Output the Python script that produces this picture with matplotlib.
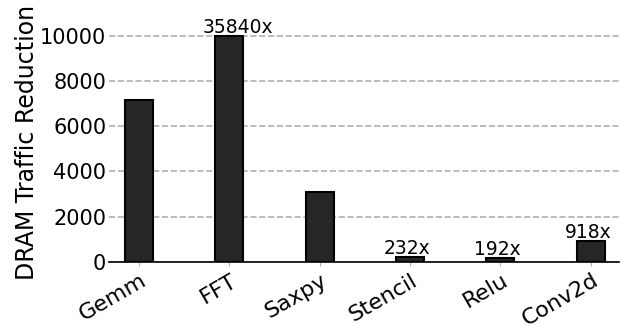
import numpy as np
import matplotlib
matplotlib.use("Agg")
import matplotlib.pyplot as plt
import matplotlib.transforms as mtransforms

benchmarks = ["Gemm", "FFT", "Saxpy", "Stencil", "Relu", "Conv2d"]
reduction = [7168, 35840, 3072, 232, 192, 918]
labelled = ["", "35840x", "", "232x", "192x", "918x"]
y_cap = 10000

fig, ax = plt.subplots(figsize=(6.23, 3.29), dpi=100)
x = np.arange(len(benchmarks))
shown = [min(v, y_cap) for v in reduction]
bars = ax.bar(x, shown, width=0.31, color="#262626", edgecolor="black",
              linewidth=1.5, zorder=3)

# labels start a little left of the bar centre
for i, txt in enumerate(labelled):
    if txt:
        ax.text(x[i] - 0.29, shown[i] + 130, txt,
                ha="left", va="baseline", fontsize=13.5)

ax.set_ylim(0, 10570)
ax.set_xlim(-0.33, 5.31)
ax.set_yticks([0, 2000, 4000, 6000, 8000, 10000])
ax.yaxis.grid(True, linestyle="--", color="#b0b0b0", linewidth=1.2, zorder=0)
ax.set_axisbelow(True)
for s in ["top", "right", "left"]:
    ax.spines[s].set_visible(False)
ax.spines["bottom"].set_linewidth(1.2)
ax.tick_params(axis="y", length=0, labelsize=15, pad=2)
ax.tick_params(axis="x", length=3, color="#b0b0b0", labelsize=16, pad=3)
ax.set_xticks(x)
ax.set_xticklabels(benchmarks, rotation=30, ha="right")
# nudge the rotated labels a bit to the right
shift = mtransforms.ScaledTranslation(11 / 100, 0, fig.dpi_scale_trans)
for lab in ax.get_xticklabels():
    lab.set_transform(lab.get_transform() + shift)
ax.set_ylabel("DRAM Traffic Reduction", fontsize=17, labelpad=1)

fig.subplots_adjust(left=0.175, right=0.993, top=0.93, bottom=0.204)
fig.savefig("out.png", dpi=100)
